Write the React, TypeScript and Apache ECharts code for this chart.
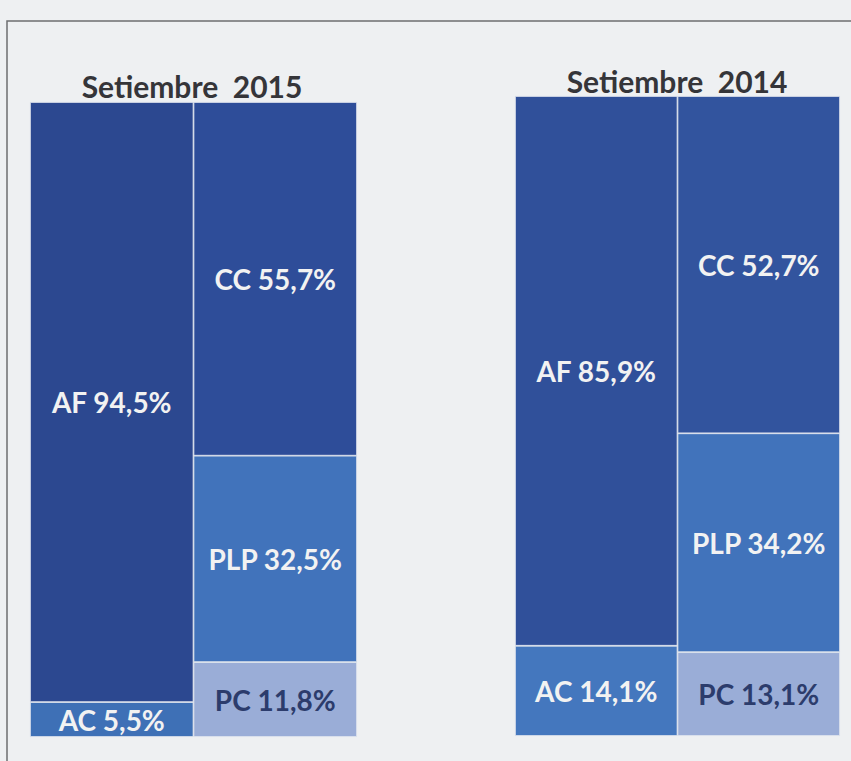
import React, { useEffect, useRef } from "react";
import * as echarts from "echarts";

const panelTitles = ["Setiembre  2015", "Setiembre  2014"];
const columns = ["Activo", "Pasivo"];
const afValues = [94.5, 85.9];
const acValues = [5.5, 14.1];
const ccValues = [55.7, 52.7];
const plpValues = [32.5, 34.2];
const pcValues = [11.8, 13.1];

const FONT = "Lato";

export default function App() {
  const ref = useRef<HTMLDivElement>(null);
  useEffect(() => {
    if (!ref.current) return;
    const chart = echarts.init(ref.current, null, { renderer: "svg" });
    const grids = [
      { left: 30, top: 102, width: 327, height: 635 },
      { left: 515, top: 96, width: 325, height: 640 },
    ];
    const fmt = (p: any) => `${p.seriesName} ${String(p.value).replace(".", ",")}%`;
    const lbl = (color: string) => ({
      show: true,
      position: "inside",
      formatter: fmt,
      color,
      fontFamily: FONT,
      fontWeight: "bold",
      fontSize: 28,
    });
    const series: any[] = [];
    panelTitles.forEach((_, i) => {
      const mk = (name: string, vals: number[], col: number, color: string, textColor: string) => ({
        type: "bar",
        name,
        xAxisIndex: i,
        yAxisIndex: i,
        stack: "s" + i,
        barCategoryGap: "0%",
        data: col === 0 ? [vals[i], "-"] : ["-", vals[i]],
        itemStyle: { color, borderColor: "#dfe4ee", borderWidth: 0.8 },
        label: lbl(textColor),
        emphasis: { disabled: true },
      });
      series.push(mk("AC", acValues, 0, i === 0 ? "#3e70b6" : "#4477be", "#f2f2f2"));
      series.push(mk("AF", afValues, 0, i === 0 ? "#2c4890" : "#30509a", "#f2f2f2"));
      series.push(mk("PC", pcValues, 1, "#9aadd7", "#2c3c6c"));
      series.push(mk("PLP", plpValues, 1, "#4173bb", "#f2f2f2"));
      series.push(mk("CC", ccValues, 1, i === 0 ? "#2e4d99" : "#32549e", "#f2f2f2"));
    });
    chart.setOption({
      animation: false,
      backgroundColor: "#eef0f2",
      title: [
        {
          text: panelTitles[0],
          left: 187,
          top: 66,
          textAlign: "center",
          textStyle: { fontFamily: FONT, fontWeight: "bold", fontSize: 30, color: "#353539" },
        },
        {
          text: panelTitles[1],
          left: 672,
          top: 61,
          textAlign: "center",
          textStyle: { fontFamily: FONT, fontWeight: "bold", fontSize: 30, color: "#353539" },
        },
      ],
      graphic: [
        {
          type: "rect",
          shape: { x: 7, y: 21, width: 900, height: 900 },
          style: { fill: "none", stroke: "#6e6e70", lineWidth: 1.5 },
          z: -1,
        },
      ],
      grid: grids,
      xAxis: grids.map((_, i) => ({
        type: "category",
        gridIndex: i,
        data: columns,
        show: false,
      })),
      yAxis: grids.map((_, i) => ({
        type: "value",
        gridIndex: i,
        min: 0,
        max: 100,
        show: false,
      })),
      tooltip: { show: false },
      series,
    });
    return () => chart.dispose();
  }, []);
  return (
    <div
      ref={ref}
      style={{ position: "absolute", left: 0, top: 0, width: 851, height: 761 }}
    />
  );
}
